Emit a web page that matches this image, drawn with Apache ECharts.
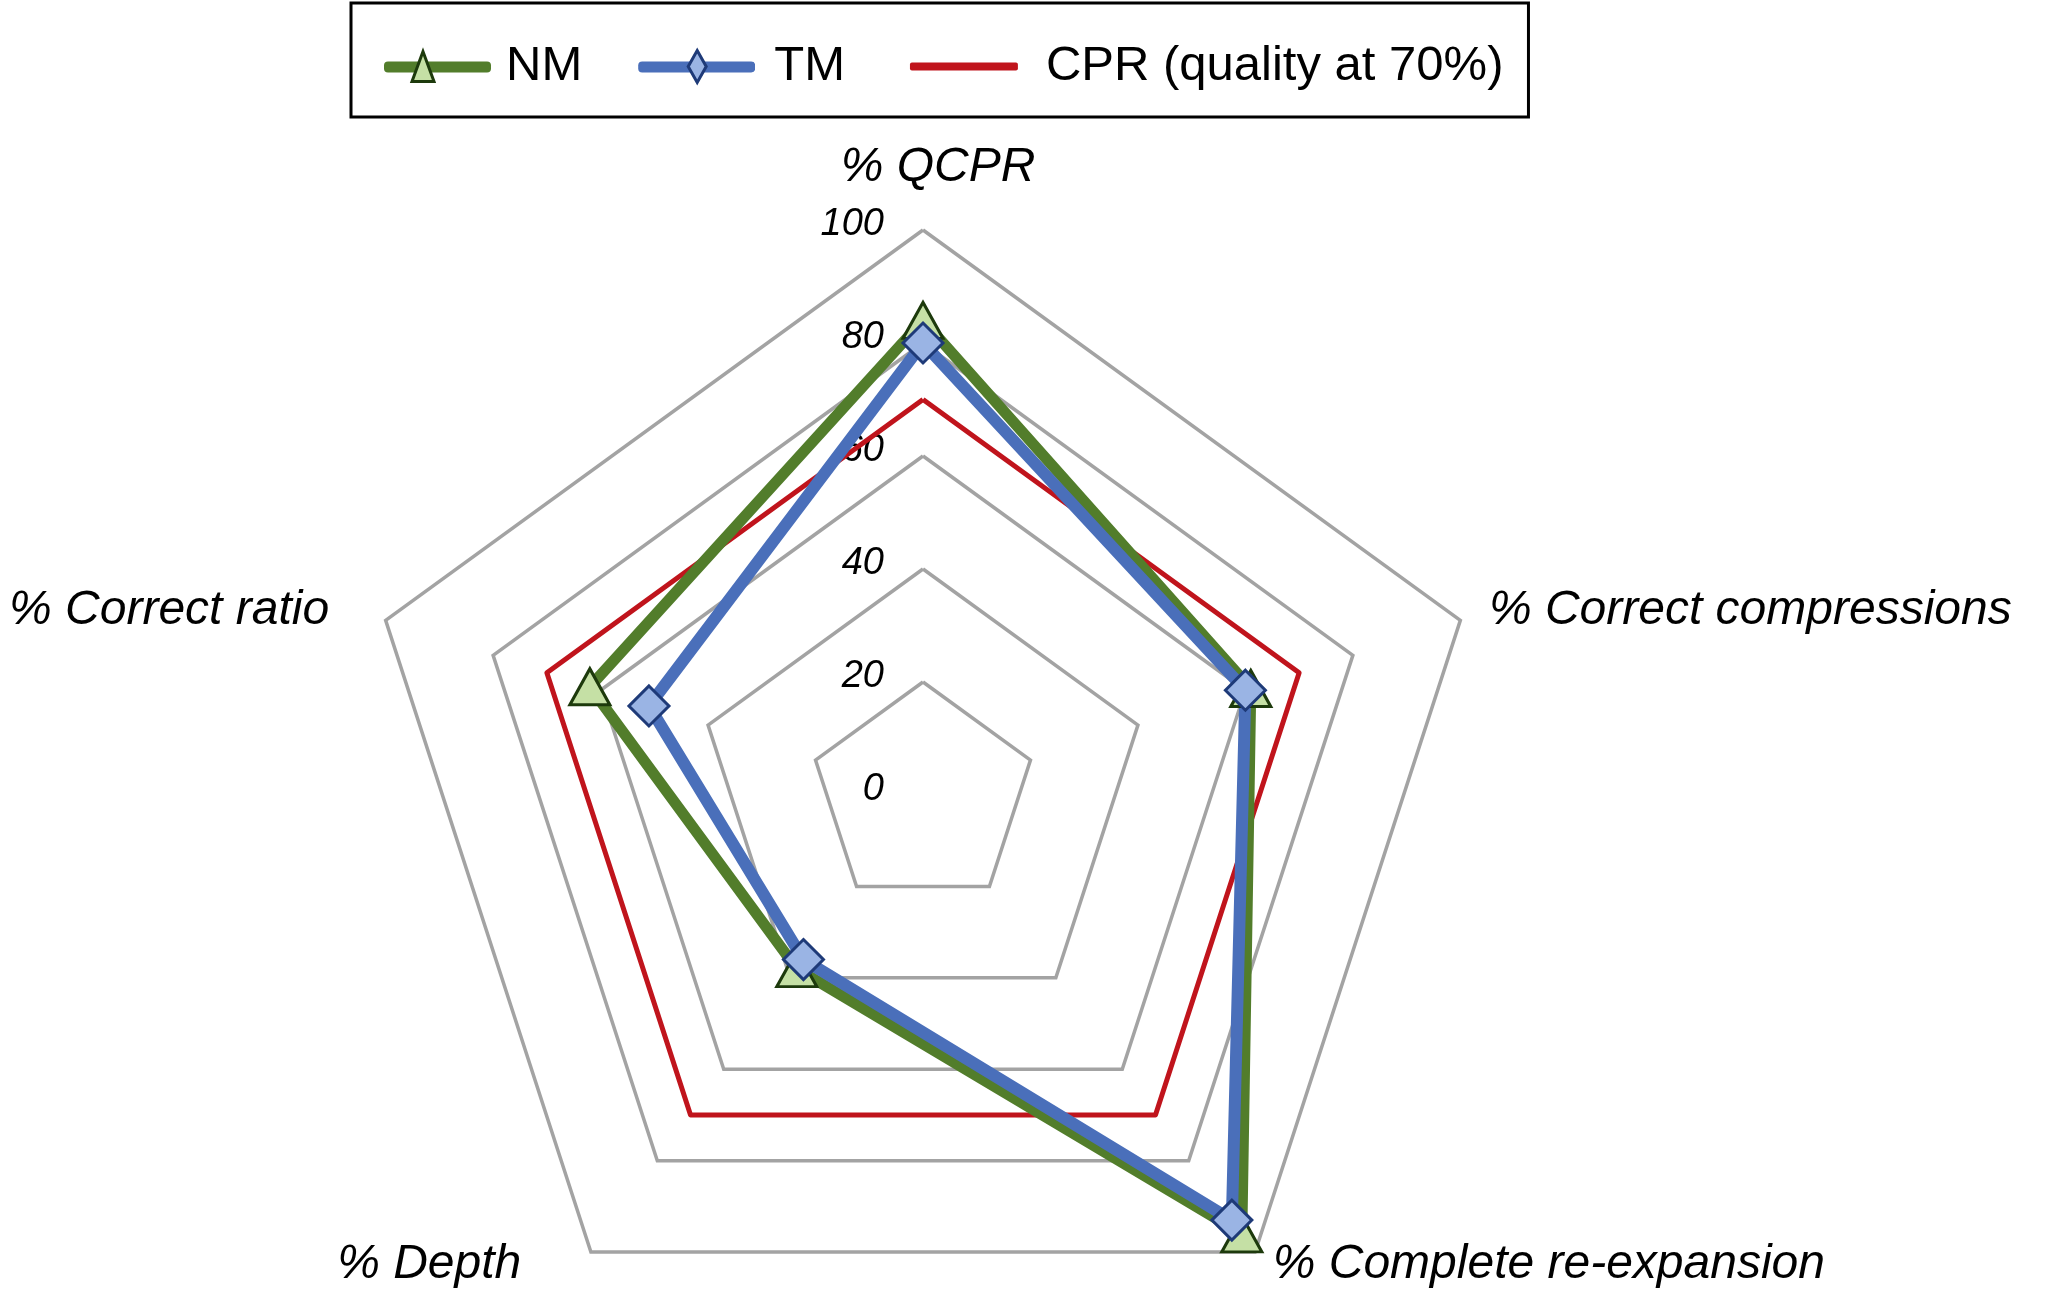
<!DOCTYPE html>
<html>
<head>
<meta charset="utf-8">
<script src="https://cdn.jsdelivr.net/npm/echarts@6/dist/echarts.min.js"></script>
<style>
  html, body { margin: 0; padding: 0; background: #ffffff; }
  #chart { width: 2068px; height: 1290px; }
</style>
</head>
<body>
<div id="chart"></div>
<script>
// ---- data ----
const indicatorNames = ['% QCPR', '% Correct ratio', '% Depth', '% Complete re-expansion', '% Correct compressions'];
const nmValues  = [84, 62, 38, 96, 61];
const tmValues  = [80, 51, 36, 93, 60];
const cprValues = [70, 70, 70, 70, 70];
const axisMin = 0;
const axisMax = 100;
const tickLabels = [0, 20, 40, 60, 80, 100];
const seriesNames = ['NM', 'TM', 'CPR (quality at 70%)'];

// ---- styles ----
const FONT = '"Liberation Sans", Arial, Helvetica, sans-serif';
const GREEN = '#527d2b', GREEN_FILL = '#c5e0a5', GREEN_EDGE = '#1d3a0c';
const BLUE = '#4a6fba', BLUE_FILL = '#9ab4e4', BLUE_EDGE = '#1e3a78';
const RED = '#c0141c';

function svgIcon(svg) {
  return 'image://data:image/svg+xml;charset=utf-8,' + encodeURIComponent(svg);
}
const nmIcon = svgIcon('<svg xmlns="http://www.w3.org/2000/svg" width="118" height="40" viewBox="0 0 118 40">' +
  '<rect x="1" y="15" width="107" height="11" rx="4" fill="' + GREEN + '"/>' +
  '<polygon points="40,5 29,35 51,35" fill="' + GREEN_FILL + '" stroke="' + GREEN_EDGE + '" stroke-width="3" stroke-linejoin="miter"/></svg>');
const tmIcon = svgIcon('<svg xmlns="http://www.w3.org/2000/svg" width="118" height="40" viewBox="0 0 118 40">' +
  '<rect x="1" y="15" width="117" height="11" rx="4" fill="' + BLUE + '"/>' +
  '<polygon points="60,4 69,20 60,36 51,20" fill="' + BLUE_FILL + '" stroke="' + BLUE_EDGE + '" stroke-width="3"/></svg>');
const cprIcon = svgIcon('<svg xmlns="http://www.w3.org/2000/svg" width="118" height="40" viewBox="0 0 118 40">' +
  '<rect x="10" y="16" width="108" height="8" rx="2" fill="' + RED + '"/></svg>');

const legendTextPad = { 'NM': 0, 'TM': 14, 'CPR (quality at 70%)': 23 };

const namePad = {
  '% QCPR': [0, 0, 8, 30],
  '% Correct ratio': [0, 28, 0, 0],
  '% Depth': [0, 52, 24, 0],
  '% Complete re-expansion': [0, 0, 24, 0],
  '% Correct compressions': [0, 0, 0, 0]
};
const richNames = {};
indicatorNames.forEach(function (n, i) {
  richNames['n' + i] = {
    fontFamily: FONT, fontSize: 48, fontStyle: 'italic', color: '#000',
    padding: namePad[n]
  };
});
const legendRich = {};
seriesNames.forEach(function (n, i) {
  legendRich['s' + i] = {
    fontFamily: FONT, fontSize: 49, color: '#000',
    padding: [0, 0, 0, legendTextPad[n]]
  };
});

const chart = echarts.init(document.getElementById('chart'), null, { renderer: 'canvas' });

const option = {
  backgroundColor: '#ffffff',
  animation: false,
  legend: {
    left: 351,
    top: 3,
    orient: 'horizontal',
    padding: [39, 25, 26, 32],
    itemGap: 55,
    itemWidth: 118,
    itemHeight: 40,
    borderColor: '#000000',
    borderWidth: 3,
    textStyle: { fontFamily: FONT, fontSize: 49, color: '#000000', rich: legendRich },
    formatter: function (name) {
      return '{s' + seriesNames.indexOf(name) + '|' + name + '}';
    },
    data: [
      { name: seriesNames[0], icon: nmIcon },
      { name: seriesNames[1], icon: tmIcon },
      { name: seriesNames[2], icon: cprIcon }
    ]
  },
  radar: {
    center: [923, 795],
    radius: 565,
    startAngle: 90,
    splitNumber: 5,
    shape: 'polygon',
    nameGap: 30,
    axisName: {
      color: '#000',
      fontFamily: FONT,
      fontSize: 48,
      fontStyle: 'italic',
      formatter: function (value) {
        const idx = indicatorNames.indexOf(value);
        return '{n' + idx + '|' + value + '}';
      },
      rich: richNames
    },
    axisLine: { show: false },
    axisTick: { show: false },
    axisLabel: { show: false },
    splitArea: { show: false },
    splitLine: { lineStyle: { color: '#a3a3a3', width: 3.5 } },
    indicator: indicatorNames.map(function (n, i) {
      const ind = { name: n, min: axisMin, max: axisMax };
      if (i === 0) {
        ind.axisLabel = {
          show: true,
          color: '#000',
          fontFamily: FONT,
          fontSize: 38,
          fontStyle: 'italic',
          margin: 39,
          rich: {
            t: { fontFamily: FONT, fontSize: 38, fontStyle: 'italic', color: '#000', padding: [0, 0, 12, 0] }
          },
          formatter: function (v) {
            const r = Math.round(v);
            return tickLabels.indexOf(r) >= 0 ? '{t|' + r + '}' : '';
          }
        };
      }
      return ind;
    })
  },
  series: [{
    type: 'radar',
    silent: true,
    data: [
      {
        name: seriesNames[2],
        value: cprValues,
        symbol: 'none',
        lineStyle: { color: RED, width: 5 },
        itemStyle: { color: RED }
      },
      {
        name: seriesNames[0],
        value: nmValues,
        symbol: 'triangle',
        symbolSize: [40, 36],
        lineStyle: { color: GREEN, width: 11 },
        itemStyle: { color: GREEN_FILL, borderColor: GREEN_EDGE, borderWidth: 3 }
      },
      {
        name: seriesNames[1],
        value: tmValues,
        symbol: 'diamond',
        symbolSize: [40, 40],
        lineStyle: { color: BLUE, width: 12 },
        itemStyle: { color: BLUE_FILL, borderColor: BLUE_EDGE, borderWidth: 3 }
      }
    ]
  }]
};

chart.setOption(option);
</script>
</body>
</html>
